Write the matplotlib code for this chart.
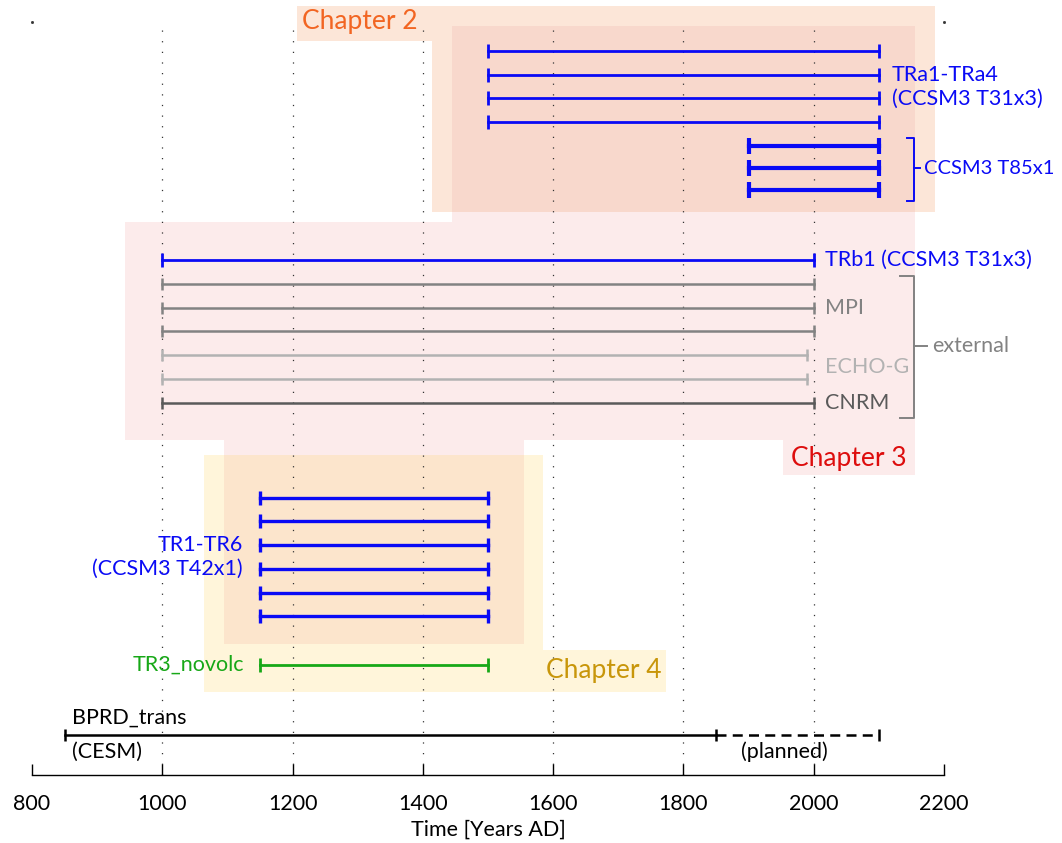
import matplotlib
matplotlib.use("Agg")
import matplotlib.pyplot as plt
from matplotlib.patches import Rectangle

plt.rcParams['font.family'] = ['Lato', 'DejaVu Sans']

# ---------------- data ----------------
# simulation periods (years AD) and row positions (top = 0)
tra_start, tra_end = 1500, 2100
tra_rows = [0, 1, 2, 3]
t85_start, t85_end = 1900, 2100
t85_rows = [4.0, 4.92, 5.84]
trb_start, trb_end = 1000, 2000
trb_row = 8.8
mpi_start, mpi_end = 1000, 2000
mpi_rows = [9.8, 10.8, 11.8]
echo_start, echo_end = 1000, 1990
echo_rows = [12.8, 13.8]
cnrm_start, cnrm_end = 1000, 2000
cnrm_row = 14.8
tr_start, tr_end = 1150, 1500
tr_rows = [18.8, 19.8, 20.8, 21.8, 22.8, 23.8]
novolc_start, novolc_end = 1150, 1500
novolc_row = 25.85
bprd_start, bprd_done, bprd_planned = 850, 1850, 2100
bprd_row = 28.8

xticks = [800, 1000, 1200, 1400, 1600, 1800, 2000, 2200]
grid_x = [1000, 1200, 1400, 1600, 1800, 2000]

BLUE = '#0a0af5'
GRAY = '#828282'
LGRAY = '#b2b2b2'
DGRAY = '#5a5a5a'
GREEN = '#17a817'

fig = plt.figure(figsize=(10.62, 8.43), dpi=100)
ax = fig.add_axes([32/1062, (843-775)/843, 912/1062, 753/843])
ax.set_xlim(800, 2200)
ax.set_ylim(30.48, -1.22)

# ---------------- background regions ----------------
def rect(x0, x1, y0, y1, color, z=0):
    ax.add_patch(Rectangle((x0, y0), x1 - x0, y1 - y0, facecolor=color,
                           edgecolor='none', zorder=z, clip_on=False))

C2 = '#fce6d8'
SAL = '#f8d8cc'
C3 = '#fcebeb'
C4 = '#fff5da'
OR = '#fce5cc'
# chapter 2
rect(1207, 1414, -1.9, -0.43, C2)
rect(1414, 2186, -1.9, 6.78, C2)
# chapter 3
rect(1445, 2156, -1.05, 6.78, SAL)
rect(1445, 2156, 6.78, 7.2, C3)
rect(943, 2156, 7.2, 16.38, C3)
rect(1953, 2156, 16.38, 17.85, C3)
rect(1095, 1556, 16.38, 17.01, C3)
# chapter 4
rect(1064, 1585, 17.01, 26.99, C4)
rect(1585, 1774, 25.22, 26.99, C4)
rect(1095, 1556, 17.01, 24.97, OR)

# ---------------- grid ----------------
for gx in grid_x:
    ax.axvline(gx, color='#333333', lw=0.9, ls=(0, (1, 7.5)), zorder=1)
ax.plot([800, 2200], [-1.22, -1.22], ls='none', marker='s', ms=1,
        color='#333333', clip_on=False, zorder=1)

# ---------------- bars ----------------
def span(x0, x1, y, color, lw, ms, mew=None, ls='-'):
    ax.plot([x0, x1], [y, y], color=color, lw=lw, ls=ls, zorder=3)
    ax.plot([x0, x1], [y, y], ls='none', marker='|', ms=ms,
            mew=mew if mew else lw, color=color, zorder=3)

for r in tra_rows:
    span(tra_start, tra_end, r, BLUE, 2.0, 10)
for r in t85_rows:
    span(t85_start, t85_end, r, BLUE, 3.0, 11)
span(trb_start, trb_end, trb_row, BLUE, 2.0, 10)
for r in mpi_rows:
    span(mpi_start, mpi_end, r, GRAY, 1.8, 9)
for r in echo_rows:
    span(echo_start, echo_end, r, LGRAY, 1.8, 9)
span(cnrm_start, cnrm_end, cnrm_row, DGRAY, 1.8, 9)
for r in tr_rows:
    span(tr_start, tr_end, r, BLUE, 2.4, 10)
span(novolc_start, novolc_end, novolc_row, GREEN, 2.0, 10)
span(bprd_start, bprd_done, bprd_row, 'black', 1.8, 9)
ax.plot([bprd_done, bprd_planned], [bprd_row, bprd_row], color='black',
        lw=1.8, ls=(0, (4, 2.5)), zorder=3)
ax.plot([bprd_planned], [bprd_row], ls='none', marker='|', ms=9, mew=1.8,
        color='black', zorder=3)

# ---------------- brackets ----------------
def bracket(x0, x1, x2, ytop, ybot, ymid, color):
    ax.plot([x0, x1, x1, x0], [ytop, ytop, ybot, ybot], color=color, lw=1.4,
            solid_joinstyle='round', clip_on=False, zorder=3)
    ax.plot([x1, x2], [ymid, ymid], color=color, lw=1.4, clip_on=False, zorder=3)

bracket(2143, 2154, 2163, 3.66, 6.32, 4.93, BLUE)
bracket(2132, 2154, 2174, 9.47, 15.45, 12.42, GRAY)

# ---------------- texts ----------------
fs = 15.5
def txt(x, y, s, color, size=fs, ha='left'):
    ax.text(x, y, s, color=color, fontsize=size, ha=ha, va='center',
            clip_on=False, zorder=4)

txt(1215, -1.22, 'Chapter 2', '#f26522', 19)
txt(2120, 1.0, 'TRa1-TRa4', BLUE)
txt(2120, 2.0, '(CCSM3 T31x3)', BLUE)
txt(2170, 4.93, 'CCSM3 T85x1', BLUE, 14.5)
txt(2017, trb_row, 'TRb1 (CCSM3 T31x3)', BLUE)
txt(2017, 10.8, 'MPI', GRAY)
txt(2017, 13.3, 'ECHO-G', LGRAY)
txt(2017, cnrm_row, 'CNRM', DGRAY)
txt(2182, 12.42, 'external', GRAY)
txt(1965, 17.14, 'Chapter 3', '#dd0d0d', 19)
txt(1124, 20.8, 'TR1-TR6', BLUE, ha='right')
txt(1124, 21.8, '(CCSM3 T42x1)', BLUE, ha='right')
txt(1125, novolc_row, 'TR3_novolc', GREEN, ha='right')
txt(1589, 26.1, 'Chapter 4', '#c8960a', 19)
txt(861, 28.08, 'BPRD_trans', 'black')
txt(861, 29.5, '(CESM)', 'black')
txt(1888, 29.5, '(planned)', 'black')

# ---------------- axes ----------------
for s in ['top', 'left', 'right']:
    ax.spines[s].set_visible(False)
ax.spines['bottom'].set_linewidth(1.0)
ax.set_yticks([])
ax.set_xticks(xticks)
ax.tick_params(axis='x', direction='in', length=8, width=1.0, labelsize=15.5,
               pad=14)
ax.set_xlabel('Time [Years AD]', fontsize=15.5, labelpad=4)
ax.patch.set_visible(False)

fig.savefig('out.png', dpi=100)
